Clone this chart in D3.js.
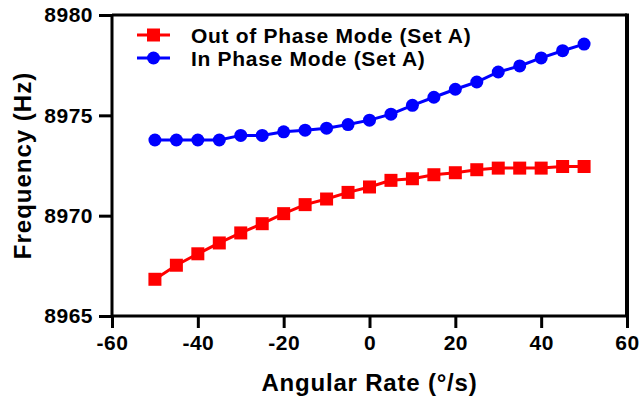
<!DOCTYPE html>
<html>
<head>
<meta charset="utf-8">
<script src="https://cdn.jsdelivr.net/npm/d3@7"></script>
<style>
  body { margin: 0; background: #fff; }
  text { font-family: "Liberation Sans", Arial, sans-serif; font-weight: bold; }
</style>
</head>
<body>
<div class="chart"></div>
<script>
// data
var rates = [-50, -45, -40, -35, -30, -25, -20, -15, -10, -5, 0, 5, 10, 15, 20, 25, 30, 35, 40, 45, 50];
var outOfPhase = [8966.83, 8967.53, 8968.1, 8968.64, 8969.14, 8969.6, 8970.1, 8970.55, 8970.83, 8971.16, 8971.43,
                  8971.76, 8971.84, 8972.04, 8972.14, 8972.29, 8972.37, 8972.37, 8972.37, 8972.45, 8972.45];
var inPhase = [8973.77, 8973.77, 8973.77, 8973.77, 8974.0, 8974.0, 8974.18, 8974.26, 8974.36, 8974.54, 8974.76,
               8975.06, 8975.5, 8975.9, 8976.3, 8976.66, 8977.16, 8977.46, 8977.86, 8978.22, 8978.55];
var xTicks = [-60, -40, -20, 0, 20, 40, 60];
var yTicks = [8965, 8970, 8975, 8980];
var seriesNames = ["Out of Phase Mode (Set A)", "In Phase Mode (Set A)"];

var svgWidth = 643, svgHeight = 399;
var margin = { top: 15, right: 16, bottom: 83, left: 112 };
var width = svgWidth - margin.left - margin.right;
var height = svgHeight - margin.top - margin.bottom;

var svg = d3.select(".chart").append("svg")
  .attr("width", svgWidth)
  .attr("height", svgHeight);

var chartGroup = svg.append("g")
  .attr("transform", `translate(${margin.left}, ${margin.top})`);

var x = d3.scaleLinear().domain([-60, 60]).range([0, width]);
var y = d3.scaleLinear().domain([8965, 8980]).range([height, 0]);

// frame (top + right)
chartGroup.append("path")
  .attr("d", `M0,0H${width}`)
  .attr("stroke", "#000")
  .attr("stroke-width", 3);
chartGroup.append("path")
  .attr("d", `M${width},-1.5V${height}`)
  .attr("stroke", "#000")
  .attr("stroke-width", 4);

var xAxis = chartGroup.append("g")
  .attr("transform", `translate(0, ${height})`)
  .call(d3.axisBottom(x).tickValues(xTicks).tickSize(12).tickPadding(7).tickFormat(d => String(d)));

var yAxis = chartGroup.append("g")
  .call(d3.axisLeft(y).tickValues(yTicks).tickSize(13).tickPadding(6).tickFormat(d3.format("d")));

[xAxis, yAxis].forEach(function(ax) {
  ax.select(".domain").attr("stroke-width", 3);
  ax.selectAll(".tick line").attr("stroke-width", 3);
  ax.selectAll(".tick text")
    .style("font-size", "21px")
    .style("letter-spacing", "0.5px")
    .attr("fill", "#000");
});
xAxis.select(".domain").attr("d", `M0,0H${width}`);
yAxis.select(".domain").attr("d", `M0,${height}V0`);

// axis titles
chartGroup.append("text")
  .attr("x", width / 2)
  .attr("y", height + 75)
  .attr("text-anchor", "middle")
  .style("font-size", "24px")
  .style("letter-spacing", "0.8px")
  .text("Angular Rate (°/s)");

chartGroup.append("text")
  .attr("transform", "rotate(-90)")
  .attr("x", -height / 2)
  .attr("y", -81)
  .attr("text-anchor", "middle")
  .style("font-size", "24px")
  .style("letter-spacing", "1px")
  .text("Frequency (Hz)");

var line = d3.line()
  .x((d, i) => x(rates[i]))
  .y(d => y(d));

// out of phase - red squares
chartGroup.append("path")
  .datum(outOfPhase)
  .attr("d", line)
  .attr("fill", "none")
  .attr("stroke", "#ff0000")
  .attr("stroke-width", 3);

chartGroup.selectAll("rect.oop")
  .data(outOfPhase)
  .enter()
  .append("rect")
  .classed("oop", true)
  .attr("x", (d, i) => x(rates[i]) - 6.5)
  .attr("y", d => y(d) - 6.5)
  .attr("width", 13)
  .attr("height", 13)
  .attr("fill", "#ff0000");

// in phase - blue circles
chartGroup.append("path")
  .datum(inPhase)
  .attr("d", line)
  .attr("fill", "none")
  .attr("stroke", "#0000ff")
  .attr("stroke-width", 3);

chartGroup.selectAll("circle.ip")
  .data(inPhase)
  .enter()
  .append("circle")
  .classed("ip", true)
  .attr("cx", (d, i) => x(rates[i]))
  .attr("cy", d => y(d))
  .attr("r", 6.5)
  .attr("fill", "#0000ff");

// legend
var legend = chartGroup.append("g")
  .attr("transform", "translate(25, 20)");

var colors = ["#ff0000", "#0000ff"];
seriesNames.forEach(function(name, i) {
  var g = legend.append("g").attr("transform", `translate(0, ${i * 23})`);
  g.append("line")
    .attr("x1", 0).attr("x2", 33)
    .attr("stroke", colors[i])
    .attr("stroke-width", 3);
  if (i == 0) {
    g.append("rect").attr("x", 10).attr("y", -6.5).attr("width", 13).attr("height", 13).attr("fill", colors[i]);
  } else {
    g.append("circle").attr("cx", 16.5).attr("r", 6.5).attr("fill", colors[i]);
  }
  g.append("text")
    .attr("x", 54)
    .attr("dy", "0.36em")
    .style("font-size", "21px")
    .style("letter-spacing", "0.7px")
    .text(name);
});
</script>
</body>
</html>
